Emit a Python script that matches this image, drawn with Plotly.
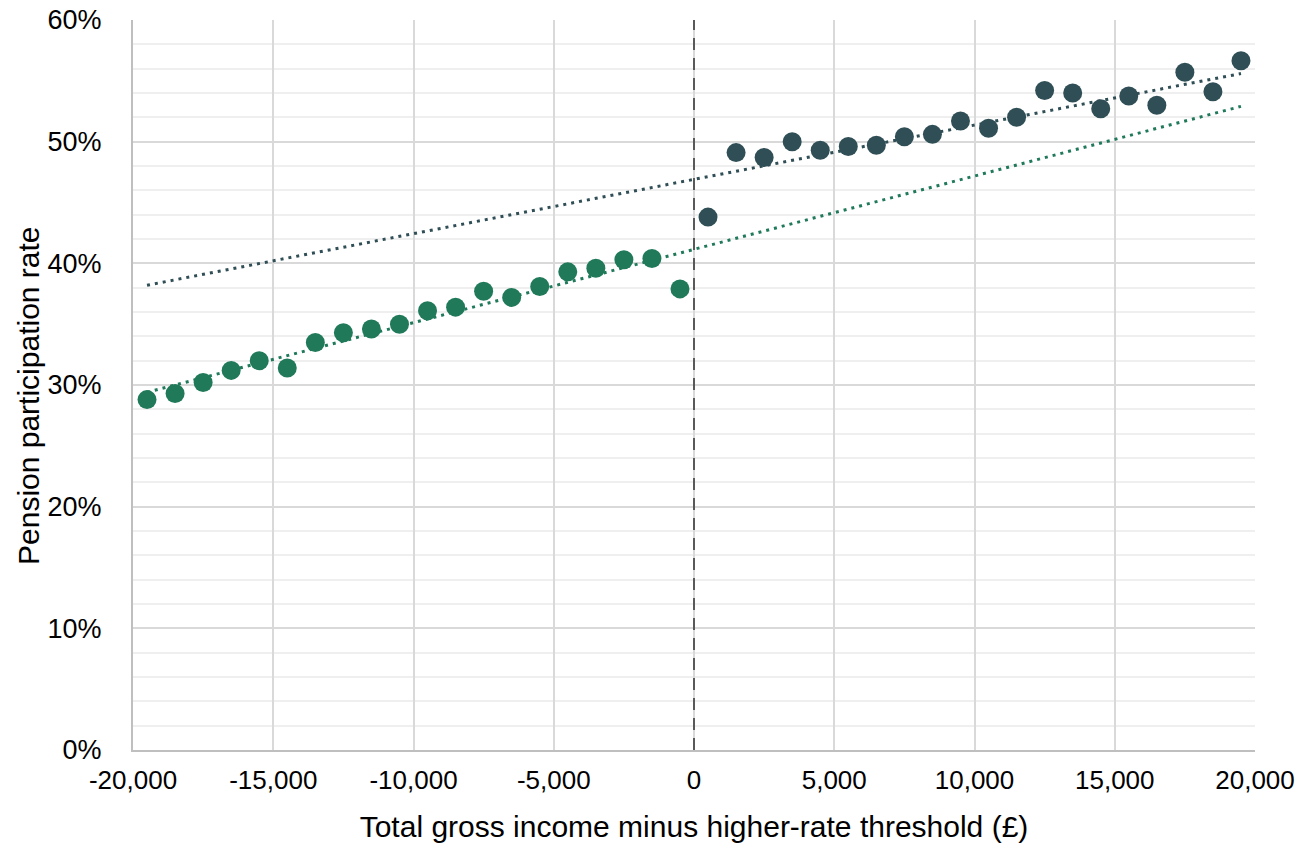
import plotly.graph_objects as go

# Income relative to higher-rate threshold (bin centres, £)
below_x = [-19500, -18500, -17500, -16500, -15500, -14500, -13500, -12500, -11500, -10500,
           -9500, -8500, -7500, -6500, -5500, -4500, -3500, -2500, -1500, -500]
below_rate = [28.8, 29.3, 30.2, 31.2, 32.0, 31.4, 33.5, 34.3, 34.6, 35.0,
              36.1, 36.4, 37.7, 37.2, 38.1, 39.3, 39.6, 40.3, 40.4, 37.9]

above_x = [500, 1500, 2500, 3500, 4500, 5500, 6500, 7500, 8500, 9500,
           10500, 11500, 12500, 13500, 14500, 15500, 16500, 17500, 18500, 19500]
above_rate = [43.8, 49.1, 48.7, 50.0, 49.3, 49.6, 49.7, 50.4, 50.6, 51.7,
              51.1, 52.0, 54.2, 54.0, 52.7, 53.75, 53.0, 55.7, 54.1, 56.65]

# Linear trend lines (endpoints)
trend_x = [-19500, 19500]
below_trend = [29.4, 52.9]
above_trend = [38.2, 55.6]

threshold = 0

x_tickvals = [-20000, -15000, -10000, -5000, 0, 5000, 10000, 15000, 20000]
x_ticktext = ["-20,000", "-15,000", "-10,000", "-5,000", "0",
              "5,000", "10,000", "15,000", "20,000"]
y_tickvals = [0, 10, 20, 30, 40, 50, 60]
y_ticktext = ["0%", "10%", "20%", "30%", "40%", "50%", "60%"]

GREEN = "#207a5a"
DARK = "#2f4e55"
FONT = "Liberation Sans, Arial, sans-serif"

fig = go.Figure()
fig.add_trace(go.Scatter(x=trend_x, y=above_trend, mode="lines",
                         line=dict(color=DARK, width=3, dash="3px,5px"),
                         hoverinfo="skip", showlegend=False))
fig.add_trace(go.Scatter(x=trend_x, y=below_trend, mode="lines",
                         line=dict(color=GREEN, width=3, dash="3px,5px"),
                         hoverinfo="skip", showlegend=False))
fig.add_trace(go.Scatter(x=below_x, y=below_rate, mode="markers",
                         marker=dict(color=GREEN, size=19, line=dict(width=0)),
                         showlegend=False))
fig.add_trace(go.Scatter(x=above_x, y=above_rate, mode="markers",
                         marker=dict(color=DARK, size=19, line=dict(width=0)),
                         showlegend=False))

fig.add_vline(x=threshold, line=dict(color="#595959", width=2, dash="12px,8px"))

fig.add_annotation(
    text="Pension participation rate", textangle=-90,
    xref="paper", yref="paper", x=0, y=0.5, xanchor="center", yanchor="middle",
    xshift=-105, yshift=-11, showarrow=False,
    font=dict(size=30, family=FONT, color="#000000"),
)

fig.update_layout(
    width=1301, height=850,
    margin=dict(l=133, r=46, t=20, b=100),
    paper_bgcolor="white", plot_bgcolor="white",
    font=dict(family=FONT, size=26, color="#000000"),
)
fig.update_xaxes(
    range=[-20000, 20000], tickvals=x_tickvals, ticktext=x_ticktext,
    automargin=False, ticklabeloverflow="allow",
    showgrid=True, gridcolor="#d9d9d9", gridwidth=2,
    showline=True, linecolor="#bfbfbf", linewidth=2,
    zeroline=False, ticks="", ticklabelstandoff=6,
    tickfont=dict(size=26, family=FONT),
    title=dict(text="Total gross income minus higher-rate threshold (£)",
               font=dict(size=30, family=FONT), standoff=22),
)
fig.update_yaxes(
    range=[0, 60], tickvals=y_tickvals, ticktext=y_ticktext,
    automargin=False, ticklabeloverflow="allow",
    showgrid=True, gridcolor="#d9d9d9", gridwidth=2,
    minor=dict(dtick=2, showgrid=True, gridcolor="#efefef", gridwidth=2),
    showline=True, linecolor="#bfbfbf", linewidth=2,
    zeroline=False, ticks="", ticklabelstandoff=24,
    tickfont=dict(size=27, family=FONT),
)

fig.write_html(
    "out.html",
    config={"displayModeBar": False},
    post_script="document.body.style.margin='0px';",
)
